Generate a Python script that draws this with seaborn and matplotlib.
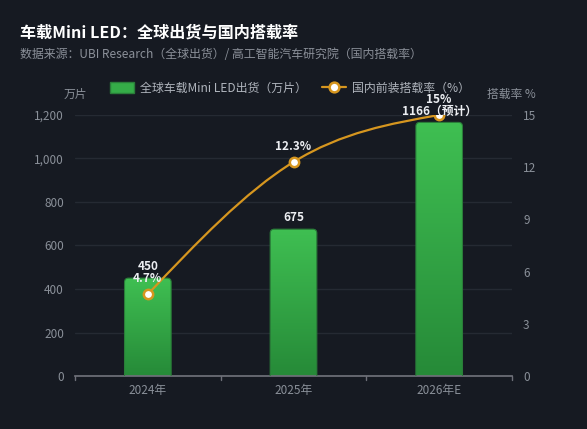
import numpy as np
import pandas as pd
import matplotlib
matplotlib.use("Agg")
import matplotlib.pyplot as plt
import seaborn as sns
from matplotlib.patches import FancyBboxPatch, Patch
from matplotlib.lines import Line2D
from matplotlib.path import Path
from matplotlib.patches import PathPatch
from matplotlib.colors import LinearSegmentedColormap

# === DATA ===
years = ["2024年", "2025年", "2026年E"]
shipments = [450, 675, 1166]          # 万片
rates = [4.7, 12.3, 15.0]             # %
ship_labels = ["450", "675", "1166（预计）"]
rate_labels = ["4.7%", "12.3%", "15%"]
left_ticks = [0, 200, 400, 600, 800, 1000, 1200]
right_ticks = [0, 3, 6, 9, 12, 15]

BG = "#161a22"
GRID = "#252a33"
TICK = "#8a9099"
GOLD = "#d6961f"

sns.set_theme(style="dark")
plt.rcParams["font.family"] = ["Noto Sans CJK SC", "DejaVu Sans"]
plt.rcParams["axes.unicode_minus"] = False

df = pd.DataFrame({"year": years, "shipments": shipments, "rate": rates})

fig = plt.figure(figsize=(5.87, 4.29), dpi=100, facecolor=BG)
ax = fig.add_axes([75 / 587, 53 / 429, 437 / 587, 261 / 429])
ax.set_facecolor(BG)

# --- bars (seaborn), then restyled with rounded gradient ---
sns.barplot(data=df, x="year", y="shipments", ax=ax, width=0.32,
            color="#32a546", saturation=1, zorder=2)
ax.set_xlim(-0.5, 2.5)
ax.set_ylim(0, 1200)

xpp = 3 / 437      # data x per px
ypp = 1200 / 261   # data y per px
cmap = LinearSegmentedColormap.from_list("g", ["#268a38", "#3fbf52"])
grad = np.linspace(0, 1, 256).reshape(-1, 1)
for p in list(ax.patches):
    x0, w, h = p.get_x(), p.get_width(), p.get_height()
    p.set_visible(False)
    box = FancyBboxPatch((x0, -30), w, h + 30,
                         boxstyle=f"round,pad=0,rounding_size={4 * xpp}",
                         mutation_aspect=ypp / xpp,
                         facecolor="none", edgecolor="#2a7d39", lw=0.8, zorder=3)
    ax.add_patch(box)
    im = ax.imshow(grad, cmap=cmap, origin="lower", aspect="auto",
                   extent=(x0, x0 + w, 0, h), zorder=2.5)
    im.set_clip_path(box)
ax.set_xlim(-0.5, 2.5)
ax.set_ylim(0, 1200)

ax.set_yticks(left_ticks)
ax.set_yticklabels([f"{v:,}" for v in left_ticks])
ax.grid(axis="y", color=GRID, lw=1)
ax.grid(axis="x", visible=False)
ax.set_axisbelow(True)
for s in ["top", "right", "left"]:
    ax.spines[s].set_visible(False)
ax.spines["bottom"].set_color("#6e7079")
ax.tick_params(axis="y", colors=TICK, labelsize=8.5, length=0, pad=8)
ax.tick_params(axis="x", colors=TICK, labelsize=8.5, length=0, pad=6)
ax.set_xlabel("")
ax.set_ylabel("")
# boundary ticks like category axis
for b in [-0.5, 0.5, 1.5, 2.5]:
    ax.plot([b, b], [0, -4 * ypp], color="#6e7079", lw=1, clip_on=False, zorder=4)

for i, (v, lab) in enumerate(zip(shipments, ship_labels)):
    ax.text(i, v + 5 * ypp, lab, ha="center", va="bottom", color="#eceef2",
            fontsize=8.5, fontweight="bold", zorder=6)

# --- rate line on twin axis ---
ax2 = ax.twinx()
ax2.set_ylim(0, 15)
ax2.set_yticks(right_ticks)
ax2.grid(False)
for s in ["top", "right", "left", "bottom"]:
    ax2.spines[s].set_visible(False)
ax2.tick_params(axis="y", colors=TICK, labelsize=8.5, length=0, pad=8)

# smooth curve through the points (cubic Hermite drawn as bezier)
pts = np.column_stack([np.arange(len(rates)), rates]).astype(float)
n = len(pts)
tan = np.zeros(n)
for i in range(1, n - 1):
    tan[i] = (pts[i + 1, 1] - pts[i - 1, 1]) / 2
tan[0] = 1.5 * (pts[1, 1] - pts[0, 1]) - 0.5 * tan[1]
tan[-1] = 1.5 * (pts[-1, 1] - pts[-2, 1]) - 0.5 * tan[-2]
verts = [tuple(pts[0])]
codes = [Path.MOVETO]
for i in range(n - 1):
    c1 = (pts[i, 0] + 1 / 3, pts[i, 1] + tan[i] / 3)
    c2 = (pts[i + 1, 0] - 1 / 3, pts[i + 1, 1] - tan[i + 1] / 3)
    verts += [c1, c2, tuple(pts[i + 1])]
    codes += [Path.CURVE4] * 3
ax2.add_patch(PathPatch(Path(verts, codes), facecolor="none", edgecolor=GOLD,
                        lw=1.6, zorder=5))
sns.scatterplot(x=pts[:, 0], y=pts[:, 1], ax=ax2, s=45, color="white",
                edgecolor=GOLD, linewidth=1.8, zorder=6, legend=False)
for i, (r, lab) in enumerate(zip(rates, rate_labels)):
    ax2.text(i, r + 9 * 15 / 261, lab, ha="center", va="bottom", color="#eceef2",
             fontsize=8.5, fontweight="bold", zorder=7)
ax2.set_xlim(-0.5, 2.5)

# --- titles and axis names ---
fig.text(20 / 587, 1 - 33 / 429, "车载Mini LED：全球出货与国内搭载率", color="white",
         fontsize=11.6, fontweight="bold", va="center", ha="left")
fig.text(20 / 587, 1 - 55 / 429,
         "数据来源：UBI Research（全球出货）/ 高工智能汽车研究院（国内搭载率）",
         color="#8b9099", fontsize=8.6, va="center", ha="left")
fig.text(75 / 587, 1 - 94 / 429, "万片", color=TICK, fontsize=8.5, ha="center", va="center")
fig.text(511 / 587, 1 - 94 / 429, "搭载率 %", color=TICK, fontsize=8.5, ha="center", va="center")

handles = [
    Patch(facecolor="#35ad48", edgecolor="#2a7d39", label="全球车载Mini LED出货（万片）"),
    Line2D([0], [0], color=GOLD, lw=1.6, marker="o", markersize=7,
           markerfacecolor="white", markeredgecolor=GOLD, markeredgewidth=1.8,
           label="国内前装搭载率（%）"),
]
fig.legend(handles=handles, loc="center", bbox_to_anchor=(290 / 587, 1 - 88 / 429),
           ncol=2, frameon=False, fontsize=8.6, labelcolor="#b0b5bd",
           handlelength=2.0, handleheight=1.0, columnspacing=1.3, handletextpad=0.5)

fig.savefig("out.png", dpi=100, facecolor=BG)
